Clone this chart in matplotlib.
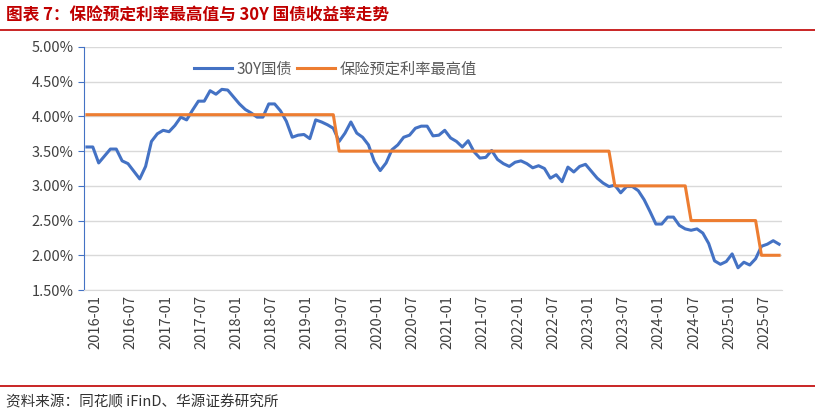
import matplotlib.pyplot as plt
import numpy as np

plt.rcParams['font.family'] = ['Noto Sans CJK SC', 'DejaVu Sans']

years = list(range(2016, 2026))
tick_labels = [f"{y}-{m:02d}" for y in years for m in (1, 7)]

bond_30y = [3.56, 3.56, 3.33, 3.43, 3.53, 3.53, 3.36, 3.32, 3.21, 3.10,
            3.28, 3.64, 3.75, 3.80, 3.78, 3.87, 3.99, 3.95, 4.09, 4.22,
            4.22, 4.37, 4.32, 4.39, 4.38, 4.28, 4.18, 4.10, 4.05, 3.99,
            3.99, 4.18, 4.18, 4.08, 3.93, 3.70, 3.73, 3.74, 3.68, 3.95,
            3.92, 3.88, 3.83, 3.64, 3.76, 3.92, 3.76, 3.70, 3.59, 3.35,
            3.22, 3.33, 3.52, 3.59, 3.70, 3.73, 3.83, 3.86, 3.86, 3.72,
            3.73, 3.80, 3.69, 3.64, 3.56, 3.65, 3.49, 3.40, 3.41, 3.51,
            3.38, 3.32, 3.28, 3.34, 3.36, 3.32, 3.26, 3.29, 3.25, 3.11,
            3.16, 3.06, 3.27, 3.20, 3.28, 3.31, 3.21, 3.11, 3.04, 2.99,
            3.01, 2.90, 2.99, 2.99, 2.93, 2.80, 2.63, 2.45, 2.45, 2.55,
            2.55, 2.43, 2.38, 2.36, 2.38, 2.32, 2.17, 1.92, 1.87, 1.91,
            2.02, 1.82, 1.90, 1.86, 1.95, 2.13, 2.16, 2.21, 2.16]

# insurance max preset rate, months at each level
rate_levels = [4.025, 3.5, 3.0, 2.5, 2.0]
rate_months = [43, 47, 13, 12, 4]
insurance = [v for v, n in zip(rate_levels, rate_months) for _ in range(n)]

x = np.arange(len(bond_30y))

fig = plt.figure(figsize=(8.15, 4.17), dpi=100)
ax = fig.add_axes([84 / 815, 1 - 290 / 417, 698 / 815, 243 / 417])

ax.plot(x, bond_30y, color='#4472C4', lw=2.2, label='30Y国债')
ax.plot(x, insurance, color='#ED7D31', lw=2.2, label='保险预定利率最高值')

ax.set_ylim(1.5, 5.0)
ax.set_yticks(np.arange(1.5, 5.01, 0.5))
ax.set_yticklabels([f"{v:.2f}%" for v in np.arange(1.5, 5.01, 0.5)])
ax.set_xlim(-0.5, len(x) - 0.5)
ax.set_xticks(np.arange(0, len(x), 6) + 1.5)
ax.set_xticklabels(tick_labels, rotation=90)
ax.grid(axis='y', color='#D9D9D9', lw=1)
ax.set_axisbelow(True)
for s in ['top', 'right']:
    ax.spines[s].set_visible(False)
ax.spines['left'].set_color('#4472C4')
ax.spines['bottom'].set_color('#D9D9D9')
ax.tick_params(axis='y', length=4, color='#4472C4', labelsize=10.5, labelcolor='#404040')
ax.tick_params(axis='x', length=0, labelsize=10.5, labelcolor='#404040')

ax.legend(loc='upper center', bbox_to_anchor=(0.36, 1.0), ncol=2, frameon=False,
          fontsize=11, handlelength=2.5, columnspacing=0.3, handletextpad=0.3,
          labelcolor='#595959')

red = '#C00000'
fig.text(6 / 815, 1 - 15 / 417, '图表 7：保险预定利率最高值与 30Y 国债收益率走势',
         color=red, fontsize=12, fontweight='bold', va='center')
fig.add_artist(plt.Line2D([0, 1], [1 - 30 / 417] * 2, color=red, lw=1.2))
fig.add_artist(plt.Line2D([0, 1], [1 - 386 / 417] * 2, color=red, lw=1.2))
fig.text(6 / 815, 1 - 402 / 417, '资料来源：同花顺 iFinD、华源证券研究所',
         color='#333333', fontsize=10.5, va='center')

fig.savefig('out.png', dpi=100)
